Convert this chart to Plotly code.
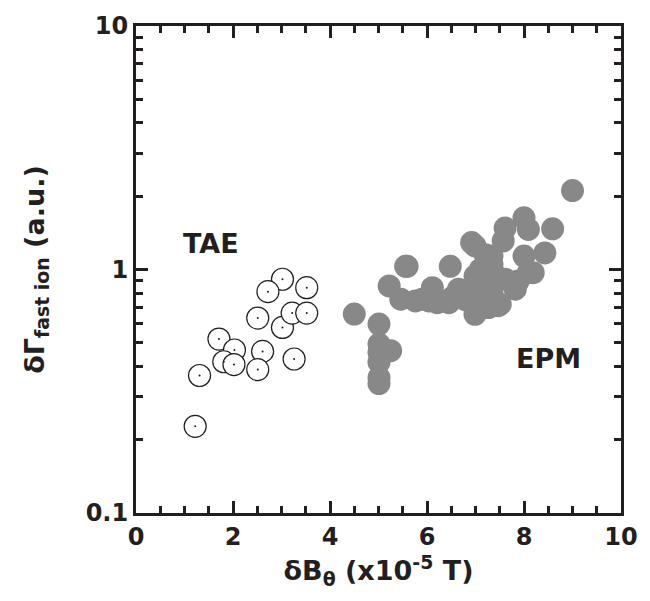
import plotly.graph_objects as go

# TAE (open circles)
tae_x = [3.02, 2.72, 3.52, 2.51, 3.02, 3.22, 3.52, 1.71, 2.03, 1.81, 2.02, 2.61, 2.51, 3.26, 1.31, 1.22]
tae_y = [0.912, 0.811, 0.842, 0.632, 0.578, 0.662, 0.662, 0.518, 0.467, 0.418, 0.407, 0.461, 0.388, 0.429, 0.367, 0.227]

# EPM (filled grey circles)
epm_x = [4.50, 5.01, 5.01, 5.25, 5.01, 5.01, 5.01, 5.01, 5.22, 5.46, 5.56, 5.59, 5.76, 6.04,
         6.11, 6.21, 6.48, 6.52, 6.65, 6.45, 6.92, 6.99, 6.99, 6.99, 7.06, 7.20, 7.34, 7.34,
         7.34, 7.47, 7.51, 7.57, 7.61, 7.61, 7.82, 7.88, 8.00, 8.00, 8.09, 8.09, 8.19, 8.43,
         8.59, 9.00, 7.20, 7.10, 7.27, 6.30, 5.90, 7.15, 7.40, 6.80]
epm_y = [0.656, 0.597, 0.494, 0.464, 0.457, 0.416, 0.360, 0.340, 0.856, 0.755, 1.03, 1.03, 0.743, 0.743,
         0.842, 0.731, 1.03, 0.767, 0.83, 0.731, 1.29, 1.25, 0.94, 0.655, 0.804, 0.897, 1.05, 1.135,
         0.804, 0.71, 0.72, 1.31, 0.912, 1.48, 0.83, 0.897, 1.63, 1.135, 1.46, 0.97, 0.97, 1.17,
         1.47, 2.11, 1.15, 1.0, 0.698, 0.74, 0.755, 0.75, 0.95, 0.75]

x_ticks = [0, 2, 4, 6, 8, 10]
y_ticks = [0.1, 1, 10]
y_tick_text = ["0.1", "1", "10"]
y_minor = [0.2, 0.3, 0.4, 0.5, 0.6, 0.7, 0.8, 0.9, 2, 3, 4, 5, 6, 7, 8, 9]

FONT = "DejaVu Sans, Liberation Sans, Arial, sans-serif"
INK = "#231f20"

fig = go.Figure()
fig.add_trace(go.Scatter(
    x=epm_x, y=epm_y, mode="markers",
    marker=dict(size=23, color="#888888", line=dict(width=0)),
    showlegend=False, hoverinfo="skip"))
fig.add_trace(go.Scatter(
    x=tae_x, y=tae_y, mode="markers",
    marker=dict(size=22, color="white", line=dict(width=1.2, color=INK)),
    showlegend=False, hoverinfo="skip"))
fig.add_trace(go.Scatter(
    x=tae_x, y=tae_y, mode="markers",
    marker=dict(size=2, color=INK, line=dict(width=0)),
    showlegend=False, hoverinfo="skip"))

# annotation y on a log axis is given as log10 of the value
fig.add_annotation(x=1.55, y=0.105, text="TAE", showarrow=False,
                   font=dict(family=FONT, size=27, color=INK, weight="bold"))
fig.add_annotation(x=8.5, y=-0.365, text="EPM", showarrow=False,
                   font=dict(family=FONT, size=27, color=INK, weight="bold"))

fig.update_layout(
    width=650, height=601,
    margin=dict(l=136, r=27, t=24, b=88),
    paper_bgcolor="white", plot_bgcolor="white",
    font=dict(family=FONT, color=INK),
    xaxis=dict(
        range=[0, 10], tickvals=x_ticks, ticks="inside", ticklen=12, tickwidth=3,
        tickcolor=INK, showline=True, linewidth=3, linecolor=INK,
        mirror="allticks", showgrid=False, zeroline=False,
        tickfont=dict(family=FONT, size=24, weight="bold", color=INK),
        minor=dict(dtick=0.5, ticks="inside", ticklen=7, tickwidth=3, tickcolor=INK, showgrid=False),
        title=dict(text="δB<sub>θ</sub> (x10<sup>-5</sup> T)", standoff=12,
                   font=dict(family=FONT, size=27, weight="bold", color=INK)),
    ),
    yaxis=dict(
        type="log", range=[-1, 1], tickvals=y_ticks, ticktext=y_tick_text,
        ticks="inside", ticklen=12, tickwidth=3, tickcolor=INK,
        showline=True, linewidth=3, linecolor=INK, mirror="allticks",
        showgrid=False, zeroline=False,
        tickfont=dict(family=FONT, size=24, weight="bold", color=INK),
        minor=dict(tickvals=y_minor, ticks="inside", ticklen=7, tickwidth=3, tickcolor=INK, showgrid=False),
        title=dict(text="δΓ<sub>fast ion</sub> (a.u.)", standoff=34,
                   font=dict(family=FONT, size=27, weight="bold", color=INK)),
    ),
)

fig.write_html("out.html")
